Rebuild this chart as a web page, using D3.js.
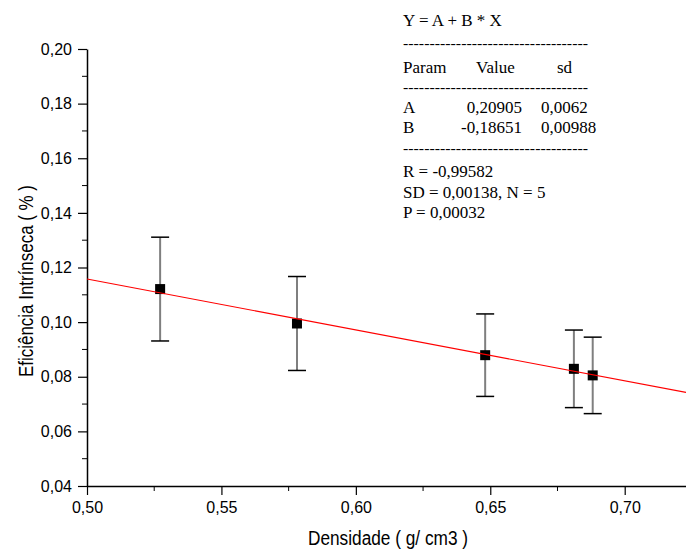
<html>
  <head>
    <meta charset="UTF-8">
    <style>
      body { margin: 0; background: #fff; }
      text { font-family: "Liberation Sans", Arial, sans-serif; }
    </style>
  </head>
  <body>
    <script src="https://d3js.org/d3.v7.min.js"></script>
    <script>

var width = 686;
var height = 550;

// dados
var densidade = [0.5272, 0.5781, 0.6481, 0.6811, 0.6881];
var eficiencia = [0.1121, 0.0995, 0.0879, 0.0829, 0.0805];
var erro = [0.0190, 0.0172, 0.0151, 0.0142, 0.0140];

// ajuste linear Y = A + B * X
var coefA = 0.20905;
var coefB = -0.18651;

var xTicks = [0.50, 0.55, 0.60, 0.65, 0.70];
var yTicks = [0.04, 0.06, 0.08, 0.10, 0.12, 0.14, 0.16, 0.18, 0.20];

var statsLines = [
    "R  = -0,99582",
    "SD = 0,00138, N = 5",
    "P = 0,00032"
];
var paramRows = [
    ["A", "0,20905", "0,0062"],
    ["B", "-0,18651", "0,00988"]
];

var svg = d3.select("body").append("svg")
    .attr("width", width).attr("height", height);

var x = d3.scaleLinear().domain([0.5, 0.7228]).range([87, 686]);
var y = d3.scaleLinear().domain([0.04, 0.20]).range([486, 49]);

var fmt = function(d) { return d3.format(".2f")(d).replace(".", ","); };

// eixo X
var xAxis = svg.append("g").attr("transform", "translate(0," + y(0.04) + ")");
xAxis.call(d3.axisBottom(x).tickValues(xTicks).tickFormat(fmt).tickSize(9).tickSizeOuter(0))
xAxis.selectAll(".tick text").attr("font-size", 16).attr("dy", "0.95em");
xAxis.selectAll(".minor").data(d3.range(0.525, 0.72, 0.05)).enter().append("line")
    .attr("x1", function(d) { return x(d); }).attr("x2", function(d) { return x(d); })
    .attr("y1", 0).attr("y2", 5).attr("stroke", "#000");

// eixo Y
var yAxis = svg.append("g").attr("transform", "translate(" + x(0.5) + ",0)");
yAxis.call(d3.axisLeft(y).tickValues(yTicks).tickFormat(fmt).tickSize(9).tickSizeOuter(0));
yAxis.selectAll(".tick text").attr("font-size", 16).attr("x", -15);
yAxis.selectAll(".minor").data(d3.range(0.05, 0.2, 0.02)).enter().append("line")
    .attr("y1", function(d) { return y(d); }).attr("y2", function(d) { return y(d); })
    .attr("x1", 0).attr("x2", -5).attr("stroke", "#000");

svg.selectAll(".domain").attr("stroke-width", 1.5);
svg.selectAll(".tick line").attr("stroke-width", 1.2);

// títulos (fonte bem condensada como no original)
svg.append("text")
    .attr("x", 388).attr("y", 545)
    .attr("text-anchor", "middle")
    .attr("font-size", 20)
    .attr("textLength", 160).attr("lengthAdjust", "spacingAndGlyphs")
    .text("Densidade ( g/ cm3 )");

svg.append("text")
    .attr("transform", "translate(33,281) rotate(-90)")
    .attr("text-anchor", "middle")
    .attr("font-size", 20)
    .attr("textLength", 192).attr("lengthAdjust", "spacingAndGlyphs")
    .text("Eficiência Intrínseca ( % )");

// barras de erro
var pts = densidade.map(function(d, i) { return { x: d, y: eficiencia[i], e: erro[i] }; });

var eb = svg.append("g").selectAll("g").data(pts).enter().append("g");
eb.append("line")
    .attr("x1", function(d) { return x(d.x); }).attr("x2", function(d) { return x(d.x); })
    .attr("y1", function(d) { return y(d.y + d.e); }).attr("y2", function(d) { return y(d.y - d.e); })
    .attr("stroke", "#7f7f7f").attr("stroke-width", 2);
[1, -1].forEach(function(s) {
    eb.append("line")
        .attr("x1", function(d) { return x(d.x) - 9; }).attr("x2", function(d) { return x(d.x) + 9; })
        .attr("y1", function(d) { return y(d.y + s * d.e); }).attr("y2", function(d) { return y(d.y + s * d.e); })
        .attr("stroke", "#000").attr("stroke-width", 1.5);
});

// pontos
svg.append("g").selectAll("rect").data(pts).enter().append("rect")
    .attr("x", function(d) { return x(d.x) - 5; })
    .attr("y", function(d) { return y(d.y) - 5; })
    .attr("width", 10).attr("height", 10)
    .attr("fill", "#000");

// reta ajustada
var xEnd = x.domain()[1];
svg.append("line")
    .attr("x1", x(0.5)).attr("y1", y(coefA + coefB * 0.5))
    .attr("x2", x(xEnd)).attr("y2", y(coefA + coefB * xEnd))
    .attr("stroke", "#ff0000").attr("stroke-width", 1.2);

// caixa de parâmetros
var box = svg.append("g");
var dash = "-----------------------------------";
function dashLine(yy) {
    box.append("text").attr("x", 403).attr("y", yy)
        .attr("font-size", 15)
        .attr("textLength", 185).attr("lengthAdjust", "spacingAndGlyphs")
        .style("font-family", "'Liberation Serif', serif").text(dash);
}
function sText(xx, yy, t, anchor) {
    box.append("text").attr("x", xx).attr("y", yy)
        .attr("text-anchor", anchor || "start")
        .attr("font-size", 17)
        .style("font-family", "'Liberation Serif', serif").text(t);
}
sText(403, 26, "Y = A + B * X");
dashLine(48);
sText(403, 73, "Param");
sText(476, 73, "Value");
sText(557, 73, "sd");
dashLine(92);
paramRows.forEach(function(r, i) {
    sText(522, 113 + i * 20, r[1], "end");
    sText(403, 113 + i * 20, r[0]);
    sText(541, 113 + i * 20, r[2]);
});
dashLine(153);
statsLines.forEach(function(t, i) {
    sText(403, 177 + i * 20.5, t);
});

    </script>
  </body>
</html>
